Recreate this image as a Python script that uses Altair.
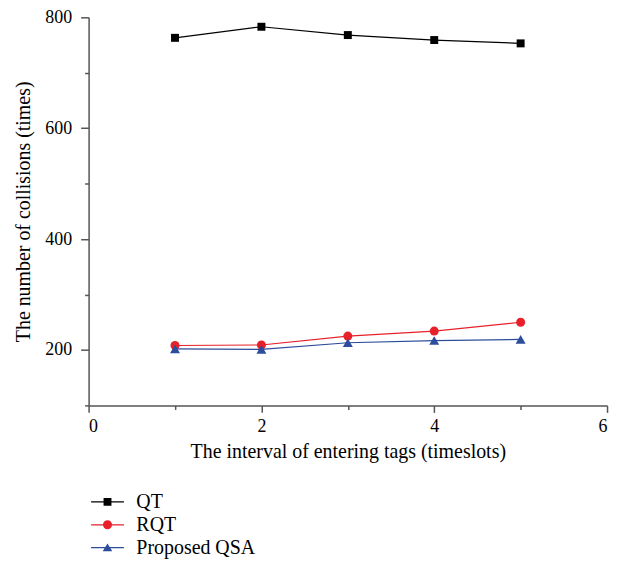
import altair as alt
import pandas as pd

x_vals = [1, 2, 3, 4, 5]
qt = [763, 783, 768, 759, 753]
rqt = [208, 209, 225, 234, 250]
qsa = [202, 201, 213, 217, 219]
series = ["QT", "RQT", "Proposed QSA"]
colors = ["#000000", "#e8202a", "#2c4c9c"]

rows = []
for name, vals in zip(series, [qt, rqt, qsa]):
    for xv, yv in zip(x_vals, vals):
        rows.append({"x": xv, "y": yv, "series": name})
df = pd.DataFrame(rows)

FONT = "Liberation Serif"

xenc = alt.X("x:Q", scale=alt.Scale(domain=[0, 6], nice=False),
             axis=alt.Axis(values=[0, 1, 2, 3, 4, 5, 6], format="d",
                           labelExpr="datum.value % 2 === 0 ? datum.label : ''",
                           tickSize={"condition": {"test": "datum.value % 2 === 0", "value": 7}, "value": 4},
                           title="The interval of entering tags (timeslots)",
                           labelPadding=5, titlePadding=6, grid=False))
yenc = alt.Y("y:Q", scale=alt.Scale(domain=[100, 800], nice=False, zero=False),
             axis=alt.Axis(values=[100, 200, 300, 400, 500, 600, 700, 800], format="d",
                           labelExpr="datum.value % 200 === 0 ? datum.label : ''",
                           tickSize={"condition": {"test": "datum.value % 200 === 0", "value": 8}, "value": 4},
                           title="The number of collisions (times)",
                           labelPadding=9, titlePadding=11, grid=False))

cscale = alt.Scale(domain=series, range=colors)

lines = alt.Chart(df).mark_line(strokeWidth=1.2).encode(
    x=xenc, y=yenc,
    color=alt.Color("series:N", scale=cscale, legend=None),
    detail="series:N",
)

points = alt.Chart(df).mark_point(filled=True, opacity=1).encode(
    x="x:Q", y="y:Q",
    color=alt.Color("series:N", scale=cscale, legend=None),
    shape=alt.Shape("series:N", scale=alt.Scale(domain=series, range=["square", "circle", "triangle-up"]), legend=None),
    size=alt.Size("series:N", scale=alt.Scale(domain=series, range=[64, 100, 100]), legend=None),
)

# legend symbols: line with marker; symbolSize 576 -> scale 12px per unit
leg_paths = [
    "M-1.375,-0.05H1.375V0.05H-1.375Z M-0.33,-0.33H0.33V0.33H-0.33Z",
    "M-1.375,-0.05H1.375V0.05H-1.375Z M-0.38,0 A0.38,0.38 0 1,1 0.38,0 A0.38,0.38 0 1,1 -0.38,0 Z",
    "M-1.375,-0.05H1.375V0.05H-1.375Z M0,-0.36 L0.4,0.3 L-0.4,0.3 Z",
]

leg = alt.Legend(title=None, orient="none", legendX=7, legendY=475,
                 symbolSize=576, symbolStrokeWidth=0,
                 labelFont=FONT, labelFontSize=20, labelColor="#000",
                 labelOffset=17, rowPadding=1, padding=0)

legend_layer = alt.Chart(df).mark_point(filled=True, opacity=1).encode(
    x="x:Q", y="y:Q",
    color=alt.Color("series:N", scale=cscale, legend=leg),
    shape=alt.Shape("series:N", scale=alt.Scale(domain=series, range=leg_paths), legend=leg),
).transform_filter("false")

chart = alt.layer(lines, points, legend_layer).resolve_scale(
    color="independent", shape="independent"
).properties(
    width=521, height=390,
    autosize=alt.AutoSizeParams(type="none"),
    padding={"left": 81, "top": 8, "right": 8, "bottom": 155},
).configure_view(stroke=None).configure_axis(
    domainColor="#555555", tickColor="#555555", domainWidth=1.5, tickWidth=1.5,
    labelFont=FONT, labelFontSize=18, labelColor="#000",
    titleFont=FONT, titleFontSize=20, titleColor="#000", titleFontWeight="normal",
)

chart.save("out.html", embed_options={"renderer": "svg", "actions": False})
